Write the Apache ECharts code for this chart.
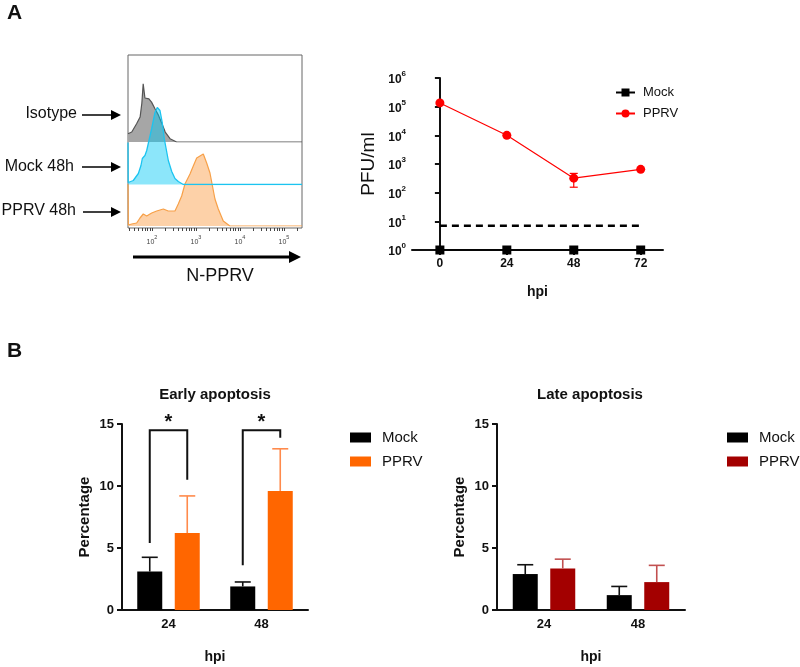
<!DOCTYPE html>
<html>
<head>
<meta charset="utf-8">
<script src="https://cdn.jsdelivr.net/npm/echarts@6/dist/echarts.min.js"></script>
<style>
html, body { margin: 0; padding: 0; background: #fff; }
#main { width: 800px; height: 667px; }
</style>
</head>
<body>
<div id="main"></div>
<script>
'use strict';

// ---- A left: N-PPRV histograms (x = fluorescence, y = events)
var isoX  = [28.5, 34.7, 44.7, 53.7, 58.9, 63.1, 69.2, 75.9, 85.1, 97.7, 117, 138, 166, 200, 257, 363, 257000];
var isoY  = [10, 12, 22, 30, 47, 70, 53, 55, 52, 48, 40, 33, 23, 12, 4, 0, 0];
var mockX = [28.5, 28.8, 37.6, 49, 56.2, 60.3, 69.2, 75.9, 82.4, 98.5, 117, 132, 152, 171, 190, 235, 281, 333, 396, 515, 257000];
var mockY = [42, 2, 4, 11, 19, 26, 29, 34, 36, 56, 72, 77, 74, 62, 46, 24, 13, 6, 3, 0, 0];
var pprvX = [28.5, 29, 34.6, 44.9, 53.4, 63.4, 75.8, 98.5, 128, 181, 234, 333, 396, 473, 562, 731, 869, 1038, 1233, 1466, 1750, 2080, 2370, 2700, 3215, 4170, 5900, 257000];
var pprvY = [42, 1, 2, 3, 8, 12, 10, 13, 15, 17, 15, 15, 22, 30, 42, 52, 60, 68, 70, 72, 63, 53, 40, 27, 17, 5, 0, 0];
var histLabels = ['Isotype', 'Mock 48h', 'PPRV 48h'];

// ---- A right: titre (PFU/ml) by hpi
var hpi = [0, 24, 48, 72];
var mockPfu = [1, 1, 1, 1];
var pprvPfu = [135000, 10000, 320, 650];
var pprvPfuErr = [[48, 155, 470]];   // [hpi, low, high]
var limitPfu = 7;

// ---- B: apoptosis percentages (mean, sd)
var hpiCats = ['24', '48'];
var earlyMock = [3.1, 1.9];
var earlyMockSd = [1.15, 0.36];
var earlyPprv = [6.2, 9.6];
var earlyPprvSd = [3.0, 3.4];
var lateMock = [2.9, 1.2];
var lateMockSd = [0.75, 0.7];
var latePprv = [3.35, 2.25];
var latePprvSd = [0.75, 1.35];
// significance brackets: [category, left foot, top, right foot]
var earlySig = [[0, 5.4, 14.5, 10.5], [1, 3.6, 14.5, 13.9]];

var FONT = 'Liberation Sans, Arial, sans-serif';
var BAR_W = 25;
var BAR_SHIFT = 18.75;

function pairs(xs, ys) {
    var out = [];
    for (var i = 0; i < xs.length; i++) out.push([xs[i], ys[i]]);
    return out;
}
function withSd(mean, sd) {
    var out = [];
    for (var i = 0; i < mean.length; i++) out.push([i, mean[i], sd[i]]);
    return out;
}

// log minor ticks of the cytometry axis
var flowTicks = [];
for (var d = 10; d <= 100000; d *= 10) {
    for (var m = 1; m <= 9; m++) {
        var v = d * m;
        if (v >= 30 && v <= 250000) flowTicks.push(v);
    }
}

function errorBar(side, color) {
    return function (params, api) {
        var c = api.value(0), mean = api.value(1), sd = api.value(2);
        var lo = api.coord([c, mean]);
        var hi = api.coord([c, mean + sd]);
        var x = lo[0] + side * BAR_SHIFT;
        var st = { stroke: color, lineWidth: 1.6 };
        return {
            type: 'group',
            children: [
                { type: 'line', shape: { x1: x, y1: lo[1], x2: x, y2: hi[1] }, style: st },
                { type: 'line', shape: { x1: x - 8, y1: hi[1], x2: x + 8, y2: hi[1] }, style: st }
            ]
        };
    };
}

function sigBracket(params, api) {
    var c = api.value(0);
    var l = api.coord([c, api.value(1)]);
    var t = api.coord([c, api.value(2)]);
    var r = api.coord([c, api.value(3)]);
    var xl = l[0] - BAR_SHIFT, xr = l[0] + BAR_SHIFT;
    return {
        type: 'group',
        children: [
            { type: 'polyline', shape: { points: [[xl, l[1]], [xl, t[1]], [xr, t[1]], [xr, r[1]]] },
              style: { stroke: '#111', lineWidth: 2, fill: null } },
            { type: 'text', x: l[0], y: t[1] + 2,
              style: { text: '*', fontSize: 20, fontWeight: 'bold', fontFamily: FONT, fill: '#111', align: 'center', verticalAlign: 'bottom' } }
        ]
    };
}

function pfuError(params, api) {
    var x = api.value(0);
    var lo = api.coord([x, api.value(1)]);
    var hi = api.coord([x, api.value(2)]);
    var st = { stroke: '#f00', lineWidth: 1.2 };
    return {
        type: 'group',
        children: [
            { type: 'line', shape: { x1: lo[0], y1: lo[1], x2: hi[0], y2: hi[1] }, style: st },
            { type: 'line', shape: { x1: lo[0] - 4, y1: lo[1], x2: lo[0] + 4, y2: lo[1] }, style: st },
            { type: 'line', shape: { x1: hi[0] - 4, y1: hi[1], x2: hi[0] + 4, y2: hi[1] }, style: st }
        ]
    };
}

function arrow(x1, x2, y, w, head) {
    return [
        { type: 'line', shape: { x1: x1, y1: y, x2: x2 - head, y2: y }, style: { stroke: '#000', lineWidth: w } },
        { type: 'polygon', shape: { points: [[x2 - head - 1, y - head * 0.55], [x2, y], [x2 - head - 1, y + head * 0.55]] }, style: { fill: '#000' } }
    ];
}
function label(text, x, y, size, weight, align, rotate) {
    return {
        type: 'text', x: x, y: y, rotation: rotate || 0,
        style: { text: text, fontSize: size, fontWeight: weight || 'normal', fontFamily: FONT, fill: '#111',
                 align: align || 'center', verticalAlign: 'middle' }
    };
}

var blackAxis = { lineStyle: { color: '#111', width: 2 } };
var boldLabel = { color: '#111', fontSize: 13, fontWeight: 'bold', fontFamily: FONT };

var hidden = { show: false };

var myChart = echarts.init(document.getElementById('main'));
var option = {
    animation: false,
    backgroundColor: '#fff',
    textStyle: { fontFamily: FONT },
    grid: [
        { left: 128, width: 174, top: 55, height: 173, show: true, borderColor: '#666', borderWidth: 1, backgroundColor: 'transparent' },
        { left: 128, width: 174, top: -29, height: 171 },
        { left: 128, width: 174, top: 13.5, height: 171 },
        { left: 128, width: 174, top: 55, height: 171 },
        { left: 412, width: 251, top: 78, height: 172 },
        { left: 122, width: 186, top: 424, height: 186 },
        { left: 497, width: 188, top: 424, height: 186 }
    ],
    xAxis: [
        { type: 'log', gridIndex: 0, min: 28.5, max: 257000,
          axisLine: hidden, splitLine: hidden,
          axisTick: { length: 3, customValues: flowTicks, lineStyle: { color: '#444', width: 1 } },
          axisLabel: { customValues: [100, 1000, 10000, 100000], margin: 6, color: '#444',
                       formatter: function (v) { return '{b|10}{s|' + Math.round(Math.log10(v)) + '}'; },
                       rich: { b: { fontSize: 7, lineHeight: 12, verticalAlign: 'bottom' },
                               s: { fontSize: 5.5, lineHeight: 7, verticalAlign: 'top' } } } },
        { type: 'log', gridIndex: 1, min: 28.5, max: 257000, show: false },
        { type: 'log', gridIndex: 2, min: 28.5, max: 257000, show: false },
        { type: 'log', gridIndex: 3, min: 28.5, max: 257000, show: false },
        { type: 'value', gridIndex: 4, min: -10, max: 80, splitLine: hidden,
          axisLine: blackAxis, axisTick: { length: 5, customValues: hpi, lineStyle: { color: '#111', width: 2 } },
          axisLabel: { customValues: hpi, color: '#111', fontSize: 12, fontWeight: 'bold', margin: 8 },
          name: 'hpi', nameLocation: 'middle', nameGap: 35,
          nameTextStyle: { color: '#111', fontSize: 14, fontWeight: 'bold' } },
        { type: 'category', gridIndex: 5, data: hpiCats, axisLine: blackAxis,
          axisTick: { alignWithLabel: true, length: 5, lineStyle: { color: '#111', width: 2 } },
          axisLabel: boldLabel,
          name: 'hpi', nameLocation: 'middle', nameGap: 40,
          nameTextStyle: { color: '#111', fontSize: 14, fontWeight: 'bold' } },
        { type: 'category', gridIndex: 6, data: hpiCats, axisLine: blackAxis,
          axisTick: { alignWithLabel: true, length: 5, lineStyle: { color: '#111', width: 2 } },
          axisLabel: boldLabel,
          name: 'hpi', nameLocation: 'middle', nameGap: 40,
          nameTextStyle: { color: '#111', fontSize: 14, fontWeight: 'bold' } }
    ],
    yAxis: [
        { type: 'value', gridIndex: 0, min: 0, max: 173, show: false },
        { type: 'value', gridIndex: 1, min: 0, max: 171, show: false },
        { type: 'value', gridIndex: 2, min: 0, max: 171, show: false },
        { type: 'value', gridIndex: 3, min: 0, max: 171, show: false },
        { type: 'log', gridIndex: 4, min: 1, max: 1000000, splitLine: hidden,
          axisLine: { show: true, lineStyle: { color: '#111', width: 2 } }, axisTick: { show: true, length: 5, lineStyle: { color: '#111', width: 2 } },
          axisLabel: { color: '#111', margin: 6,
                       formatter: function (v) { return '{b|10}{s|' + Math.round(Math.log10(v)) + '}'; },
                       rich: { b: { fontSize: 12, fontWeight: 'bold', lineHeight: 16, verticalAlign: 'bottom' },
                               s: { fontSize: 8, fontWeight: 'bold', lineHeight: 8, verticalAlign: 'top' } } },
          name: 'PFU/ml', nameLocation: 'middle', nameGap: 34,
          nameTextStyle: { color: '#111', fontSize: 19 } },
        { type: 'value', gridIndex: 5, min: 0, max: 15, interval: 5, splitLine: hidden,
          axisLine: { show: true, lineStyle: { color: '#111', width: 2 } }, axisTick: { show: true, length: 5, lineStyle: { color: '#111', width: 2 } },
          axisLabel: boldLabel,
          name: 'Percentage', nameLocation: 'middle', nameGap: 30,
          nameTextStyle: { color: '#111', fontSize: 15, fontWeight: 'bold' } },
        { type: 'value', gridIndex: 6, min: 0, max: 15, interval: 5, splitLine: hidden,
          axisLine: { show: true, lineStyle: { color: '#111', width: 2 } }, axisTick: { show: true, length: 5, lineStyle: { color: '#111', width: 2 } },
          axisLabel: boldLabel,
          name: 'Percentage', nameLocation: 'middle', nameGap: 30,
          nameTextStyle: { color: '#111', fontSize: 15, fontWeight: 'bold' } }
    ],
    legend: [
        { data: ['Mock', 'PPRV'], orient: 'vertical', left: 610, top: 81, itemWidth: 19, itemHeight: 10, itemGap: 8,
          textStyle: { fontSize: 13, color: '#111', padding: [0, 0, 0, 3] } },
        { data: ['Mock (early)', 'PPRV (early)'], orient: 'vertical', left: 345, top: 425, itemWidth: 21, itemHeight: 10, itemGap: 9,
          icon: 'rect', formatter: function (n) { return n.split(' ')[0]; },
          textStyle: { fontSize: 15, color: '#111', padding: [0, 0, 0, 6] } },
        { data: ['Mock (late)', 'PPRV (late)'], orient: 'vertical', left: 722, top: 425, itemWidth: 21, itemHeight: 10, itemGap: 9,
          icon: 'rect', formatter: function (n) { return n.split(' ')[0]; },
          textStyle: { fontSize: 15, color: '#111', padding: [0, 0, 0, 6] } }
    ],
    series: [
        // histograms
        { type: 'line', xAxisIndex: 3, yAxisIndex: 3, data: pairs(pprvX, pprvY), showSymbol: false, z: 2,
          lineStyle: { color: '#F7A048', width: 1.2 }, areaStyle: { color: '#FDD1A8', opacity: 1 } },
        { type: 'line', xAxisIndex: 1, yAxisIndex: 1, data: pairs(isoX, isoY), showSymbol: false, z: 3,
          lineStyle: { color: '#555', width: 1.2 }, areaStyle: { color: '#A6A6A6', opacity: 1 } },
        { type: 'line', xAxisIndex: 2, yAxisIndex: 2, data: pairs(mockX, mockY), showSymbol: false, z: 4,
          lineStyle: { color: '#1CC4F0', width: 1.3 }, areaStyle: { color: 'rgb(0,200,244)', opacity: 0.45 } },

        // titre
        { name: 'Mock', type: 'line', xAxisIndex: 4, yAxisIndex: 4, data: pairs(hpi, mockPfu),
          symbol: 'rect', symbolSize: 9, itemStyle: { color: '#000' }, lineStyle: { color: '#000', width: 1.5 }, z: 5 },
        { name: 'PPRV', type: 'line', xAxisIndex: 4, yAxisIndex: 4, data: pairs(hpi, pprvPfu),
          symbol: 'circle', symbolSize: 9, itemStyle: { color: '#f00' }, lineStyle: { color: '#f00', width: 1.2 }, z: 5 },
        { type: 'custom', xAxisIndex: 4, yAxisIndex: 4, data: pprvPfuErr, renderItem: pfuError, z: 4 },
        { type: 'line', xAxisIndex: 4, yAxisIndex: 4, data: [[hpi[0], limitPfu], [hpi[hpi.length - 1], limitPfu]],
          showSymbol: false, lineStyle: { color: '#000', width: 2.5, type: [7, 5] } },

        // early apoptosis
        { name: 'Mock (early)', type: 'bar', xAxisIndex: 5, yAxisIndex: 5, data: earlyMock, barWidth: BAR_W, barGap: '50%',
          itemStyle: { color: '#000' } },
        { name: 'PPRV (early)', type: 'bar', xAxisIndex: 5, yAxisIndex: 5, data: earlyPprv, barWidth: BAR_W, barGap: '50%',
          itemStyle: { color: '#FF6600' } },
        { type: 'custom', xAxisIndex: 5, yAxisIndex: 5, data: withSd(earlyMock, earlyMockSd), renderItem: errorBar(-1, '#111'), z: 3 },
        { type: 'custom', xAxisIndex: 5, yAxisIndex: 5, data: withSd(earlyPprv, earlyPprvSd), renderItem: errorBar(1, '#FF8A4C'), z: 3 },
        { type: 'custom', xAxisIndex: 5, yAxisIndex: 5, data: earlySig, renderItem: sigBracket, z: 3 },

        // late apoptosis
        { name: 'Mock (late)', type: 'bar', xAxisIndex: 6, yAxisIndex: 6, data: lateMock, barWidth: BAR_W, barGap: '50%',
          itemStyle: { color: '#000' } },
        { name: 'PPRV (late)', type: 'bar', xAxisIndex: 6, yAxisIndex: 6, data: latePprv, barWidth: BAR_W, barGap: '50%',
          itemStyle: { color: '#A30000' } },
        { type: 'custom', xAxisIndex: 6, yAxisIndex: 6, data: withSd(lateMock, lateMockSd), renderItem: errorBar(-1, '#111'), z: 3 },
        { type: 'custom', xAxisIndex: 6, yAxisIndex: 6, data: withSd(latePprv, latePprvSd), renderItem: errorBar(1, '#C25050'), z: 3 }
    ],
    graphic: [
        label('A', 7, 13, 21, 'bold', 'left'),
        label('B', 7, 351, 21, 'bold', 'left'),
        label(histLabels[0], 77, 114, 16, 'normal', 'right'),
        label(histLabels[1], 74, 167, 16, 'normal', 'right'),
        label(histLabels[2], 76, 211, 16, 'normal', 'right'),
        label('N-PPRV', 220, 276, 18),
        label('Early apoptosis', 215, 395, 15, 'bold'),
        label('Late apoptosis', 590, 395, 15, 'bold')
    ].concat(arrow(82, 121, 115, 1.5, 9), arrow(82, 121, 167, 1.5, 9), arrow(83, 121, 212, 1.5, 9), arrow(133, 301, 257, 3, 11))
};
myChart.setOption(option);
</script>
</body>
</html>
